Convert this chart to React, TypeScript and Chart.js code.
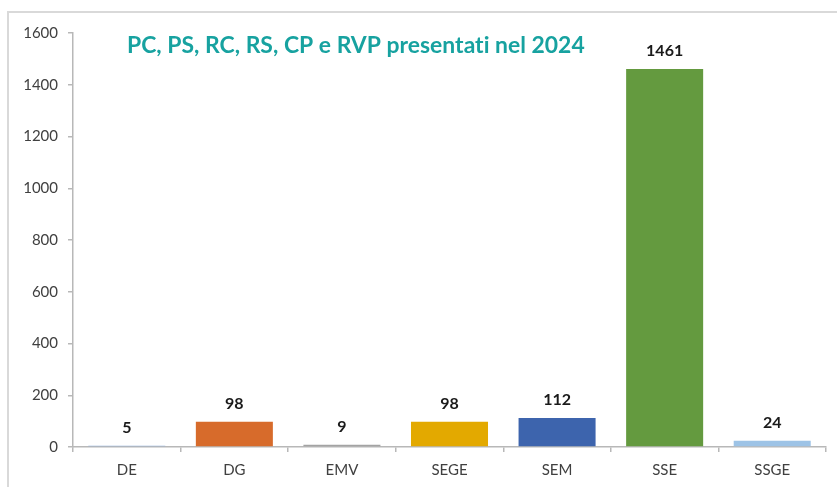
import React, { useEffect, useRef } from "react";
import { Chart, registerables } from "chart.js";

Chart.register(...registerables);

const categories = ["DE", "DG", "EMV", "SEGE", "SEM", "SSE", "SSGE"];
const values = [5, 98, 9, 98, 112, 1461, 24];
const barColors = ["#8eb0da", "#d76b2b", "#a3a3a3", "#e3a900", "#3d64ad", "#649a3f", "#9dc3e6"];
const titleText = "PC, PS, RC, RS, CP e RVP presentati nel 2024";
const yMin = 0;
const yMax = 1600;
const yStep = 200;

const FONT = "Lato, 'Open Sans', sans-serif";
const TITLE_FONT = "Lato, 'Open Sans', sans-serif";

export default function App() {
  const ref = useRef<HTMLCanvasElement>(null);
  useEffect(() => {
    document.body.style.margin = "0";
    const canvas = ref.current!;
    const framePlugin = {
      id: "frame",
      beforeDraw(chart: any) {
        const ctx = chart.ctx;
        ctx.save();
        ctx.fillStyle = "#ffffff";
        ctx.fillRect(0, 0, chart.width, chart.height);
        ctx.strokeStyle = "#d9d9d9";
        ctx.lineWidth = 2;
        ctx.beginPath();
        ctx.moveTo(8, chart.height + 5);
        ctx.lineTo(8, 12);
        ctx.lineTo(chart.width + 5, 12);
        ctx.stroke();
        ctx.restore();
      },
    };
    const labelPlugin = {
      id: "labels",
      afterDatasetsDraw(chart: any) {
        const ctx = chart.ctx;
        const meta = chart.getDatasetMeta(0);
        ctx.save();
        ctx.font = `bold 16px ${FONT}`;
        ctx.fillStyle = "#1a1a1a";
        ctx.textAlign = "center";
        ctx.textBaseline = "middle";
        meta.data.forEach((bar: any, i: number) => {
          ctx.fillText(String(values[i]), bar.x, bar.y - 18);
        });
        // title
        ctx.fillStyle = "#17a2a0";
        (ctx as any).letterSpacing = "0.01px";
        let size = 21;
        ctx.font = `bold ${size}px ${TITLE_FONT}`;
        const w = ctx.measureText(titleText).width;
        size = size * 458 / w;
        ctx.font = `bold ${size}px ${TITLE_FONT}`;
        ctx.textAlign = "left";
        ctx.fillText(titleText, 127, 46);
        ctx.restore();
      },
    };
    const chart = new Chart(canvas, {
      type: "bar",
      data: {
        labels: categories,
        datasets: [
          {
            data: values,
            backgroundColor: barColors,
            borderWidth: 0,
            categoryPercentage: 1,
            barPercentage: 0.716,
          },
        ],
      },
      options: {
        animation: false,
        responsive: false,
        maintainAspectRatio: false,
        layout: { padding: { left: 0, top: 33, right: 11, bottom: 0 } },
        plugins: { legend: { display: false }, tooltip: { enabled: false }, title: { display: false } },
        scales: {
          x: {
            grid: {
              offset: true,
              drawOnChartArea: false,
              drawTicks: true,
              tickLength: 5,
              color: "#b8b8b8",
              lineWidth: 1.5,
            },
            border: { display: true, color: "#b8b8b8", width: 1.5 },
            ticks: { color: "#404040", font: { family: FONT, size: 15 }, padding: 9 },
            afterFit(scale: any) {
              scale.height = 40;
            },
          },
          y: {
            min: yMin,
            max: yMax,
            grid: {
              drawOnChartArea: false,
              drawTicks: true,
              tickLength: 5,
              color: "#b8b8b8",
              lineWidth: 1.5,
            },
            border: { display: true, color: "#b8b8b8", width: 1.5 },
            ticks: {
              stepSize: yStep,
              color: "#404040",
              font: { family: FONT, size: 15 },
              padding: 10,
              callback: (v: any) => String(v),
            },
            afterFit(scale: any) {
              scale.width = 73;
            },
          },
        },
      },
      plugins: [framePlugin, labelPlugin],
    });
    return () => chart.destroy();
  }, []);
  return <canvas ref={ref} width={837} height={487} style={{ display: "block" }} />;
}
